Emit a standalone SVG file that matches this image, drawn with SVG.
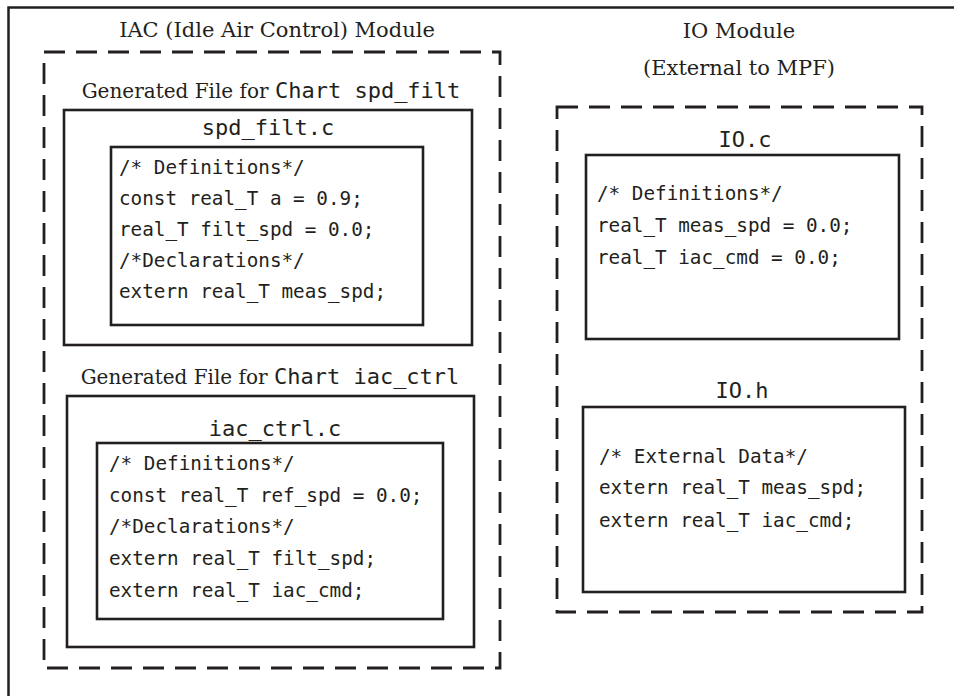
<svg xmlns="http://www.w3.org/2000/svg" width="954" height="696" viewBox="0 0 954 696">
<style>
.frame{fill:none;stroke:#231f20;stroke-width:2.5}
.dash{fill:none;stroke:#231f20;stroke-width:2.8;stroke-dasharray:21 11}
.box{fill:#fff;stroke:#231f20;stroke-width:2.6}
.serif{font-family:"DejaVu Serif","Liberation Serif",serif;font-size:21px;fill:#231f20}
.gen{font-size:20px}
.mono{font-family:"DejaVu Sans Mono","Liberation Mono",monospace;fill:#231f20}
.title{font-size:22px}
.code{font-size:19.3px}
</style>
<rect width="954" height="696" fill="#fff"/>
<path class="frame" d="M8.5,696 V7.5 H954"/>
<g id="iac-module">
<rect class="dash" x="44" y="52" width="456" height="616"/>
<text class="serif" x="277" y="37" text-anchor="middle">IAC (Idle Air Control) Module</text>
</g>
<g id="spd-filt-file">
<text class="serif gen" x="271" y="98" text-anchor="middle">Generated File for <tspan class="mono title">Chart spd_filt</tspan></text>
<rect class="box" x="64" y="110" width="408" height="235"/>
<text class="mono title" x="268" y="135" text-anchor="middle">spd_filt.c</text>
<rect class="box" x="111" y="147" width="312" height="178"/>
<text class="mono code" x="119" y="174">/* Definitions*/</text>
<text class="mono code" x="119" y="205">const real_T a = 0.9;</text>
<text class="mono code" x="119" y="236">real_T filt_spd = 0.0;</text>
<text class="mono code" x="119" y="267">/*Declarations*/</text>
<text class="mono code" x="119" y="298">extern real_T meas_spd;</text>
</g>
<g id="iac-ctrl-file">
<text class="serif gen" x="270" y="384" text-anchor="middle">Generated File for <tspan class="mono title">Chart iac_ctrl</tspan></text>
<rect class="box" x="67" y="396" width="407" height="251"/>
<text class="mono title" x="275" y="436" text-anchor="middle">iac_ctrl.c</text>
<rect class="box" x="97" y="443" width="346" height="176"/>
<text class="mono code" x="109" y="470">/* Definitions*/</text>
<text class="mono code" x="109" y="502">const real_T ref_spd = 0.0;</text>
<text class="mono code" x="109" y="533">/*Declarations*/</text>
<text class="mono code" x="109" y="565">extern real_T filt_spd;</text>
<text class="mono code" x="109" y="597">extern real_T iac_cmd;</text>
</g>
<g id="io-module">
<rect class="dash" x="557" y="107" width="365" height="505"/>
<text class="serif" x="739" y="38" text-anchor="middle">IO Module</text>
<text class="serif" x="739" y="75" text-anchor="middle">(External to MPF)</text>
</g>
<g id="io-c">
<text class="mono title" x="745" y="147" text-anchor="middle">IO.c</text>
<rect class="box" x="586" y="155" width="313" height="184"/>
<text class="mono code" x="597" y="200">/* Definitions*/</text>
<text class="mono code" x="597" y="232">real_T meas_spd = 0.0;</text>
<text class="mono code" x="597" y="264">real_T iac_cmd = 0.0;</text>
</g>
<g id="io-h">
<text class="mono title" x="742" y="398" text-anchor="middle">IO.h</text>
<rect class="box" x="583" y="407" width="322" height="185"/>
<text class="mono code" x="599" y="463">/* External Data*/</text>
<text class="mono code" x="599" y="494">extern real_T meas_spd;</text>
<text class="mono code" x="599" y="527">extern real_T iac_cmd;</text>
</g>
<g id="connectors"/>
</svg>
